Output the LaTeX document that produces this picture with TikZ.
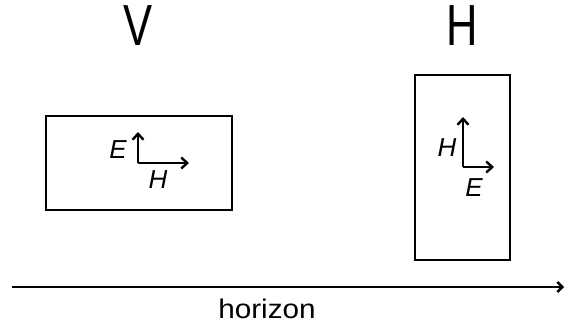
\documentclass[tikz,border=0pt]{standalone}
\usepackage{fontspec}
\setmainfont{Liberation Sans}
\usetikzlibrary{arrows.meta}
\begin{document}
\begin{tikzpicture}[x=1pt,y=-1pt,
  box/.style={draw,line width=2.4pt},
  vec/.style={draw,line width=2.4pt,-{Straight Barb[length=6pt,width=11pt]}},
  axis/.style={draw,line width=2.4pt,-{Straight Barb[length=5pt,width=10pt]}},
  big/.style={font=\fontsize{58}{58}\selectfont\addfontfeatures{FakeStretch=0.75}},
  lbl/.style={font=\fontsize{26}{26}\selectfont\itshape},
  captext/.style={font=\fontsize{27}{27}\selectfont\addfontfeatures{FakeStretch=1.1}}]
\useasboundingbox (0,0) rectangle (565,329);
% titles
\node[big] (tv) at (138,26) {V};
\node[big] (th) at (462,26) {H};
% left box
\node[box,minimum width=186pt,minimum height=94pt,inner sep=0pt] (lb) at (139,163) {};
\coordinate (lo) at (138,163);
\coordinate (lu) at (138,132);
\coordinate (lr) at (189,163);
\draw[vec] (lo) -- (lu);
\draw[vec] (lo) -- (lr);
\node[lbl] (le) at (118,150) {E};
\node[lbl] (lh) at (158,180) {H};
% right box
\node[box,minimum width=95pt,minimum height=185pt,inner sep=0pt] (rb) at (462.5,167.5) {};
\coordinate (ro) at (463,167);
\coordinate (ru) at (463,117);
\coordinate (rr) at (494,167);
\draw[vec] (ro) -- (ru);
\draw[vec] (ro) -- (rr);
\node[lbl] (rh) at (447,148) {H};
\node[lbl] (re) at (474,188) {E};
% horizon
\coordinate (ha) at (12,287);
\coordinate (hb) at (564,287);
\draw[axis] (ha) -- (hb);
\node[captext] (ht) at (267,309) {horizon};
\end{tikzpicture}
\end{document}
